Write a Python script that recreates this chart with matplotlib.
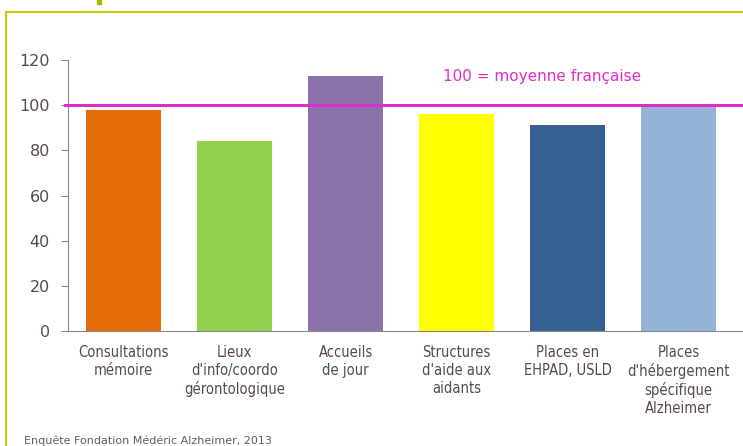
import matplotlib
matplotlib.use("Agg")
import matplotlib.pyplot as plt
from matplotlib.patches import Rectangle
from matplotlib.lines import Line2D

categories = ["Consultations\nmémoire", "Lieux\nd'info/coordo\ngérontologique", "Accueils\nde jour",
              "Structures\nd'aide aux\naidants", "Places en\nEHPAD, USLD",
              "Places\nd'hébergement\nspécifique\nAlzheimer"]
values = [98, 84, 113, 96, 91, 99.6]
colors = ["#E36C09", "#92D050", "#8C72AB", "#FFFF00", "#376092", "#95B3D7"]
yticks = [0, 20, 40, 60, 80, 100, 120]
ref_value = 100
ref_label = "100 = moyenne française"
source = "Enquête Fondation Médéric Alzheimer, 2013"

W, H = 743, 446
fig = plt.figure(figsize=(W/100, H/100), dpi=100)
plt.rcParams['font.family'] = ['DejaVu Sans']

txtc = "#5A4A4A"
green = "#C2CC00"
mag = "#E02CC8"

ax = fig.add_axes([68/W, 1-331/H, (W-68)/W, (331-60)/H])
x = list(range(len(categories)))
ax.bar(x, values, width=0.68, color=colors, zorder=2)
ax.set_xlim(-0.5, 5.58)
ax.set_ylim(0, 120)
ax.set_yticks(yticks)
ax.set_xticks(x)
ax.set_xticklabels(categories, fontsize=10.5, fontstretch='condensed', color=txtc, linespacing=1.25)
ax.tick_params(axis='x', length=0, pad=10)
ax.tick_params(axis='y', length=5, color="#888888", labelsize=11.5, labelcolor=txtc, pad=8)
for s in ["top", "right"]:
    ax.spines[s].set_visible(False)
for s in ["left", "bottom"]:
    ax.spines[s].set_color("#888888")
ax.axhline(ref_value, color=mag, lw=2.2, zorder=3, xmin=-0.004, clip_on=False)
ax.text(2.88, 112.8, ref_label, color=mag, fontsize=11, ha="left", va="center")

# frame lines
fig.add_artist(Line2D([6.5/W, 6.5/W], [0, 1-12/H], color=green, lw=1.5))
fig.add_artist(Line2D([6.5/W, 1], [1-12/H, 1-12/H], color=green, lw=1.5))
fig.add_artist(Rectangle((97/W, 1-3.5/H), 4/W, 3.5/H, color="#A8B800", transform=fig.transFigure))

fig.text(24/W, 1-441/H, source, fontsize=8, color="#6A5A5A", ha="left", va="center")

fig.savefig("out.png", dpi=100)
